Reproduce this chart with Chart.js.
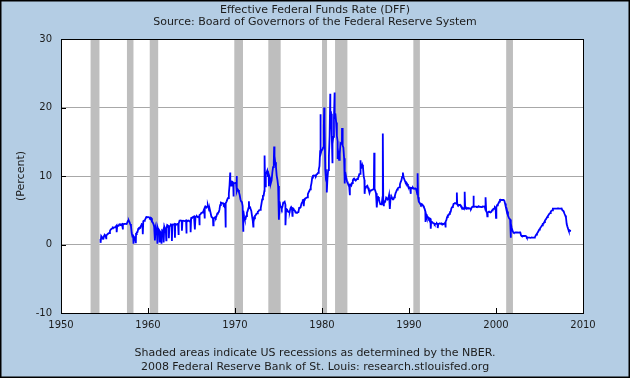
<!DOCTYPE html>
<html>
<head>
<meta charset="utf-8">
<script src="https://cdn.jsdelivr.net/npm/chart.js@4.4.1/dist/chart.umd.min.js"></script>
<style>
    html, body { margin: 0; padding: 0; background: #b4cde4; }
    #dff { display: block; }
</style>
</head>
<body>
<canvas id="dff" width="630" height="378"></canvas>
<script>
    'use strict';

    // Monthly effective federal funds rate, first value is July 1954
    var firstYear = 1954;
    var firstMonth = 7;

    var rates1950s = [
        0.80, 1.22, 1.06, 0.85, 0.83, 1.28,
        1.39, 1.29, 1.35, 1.43, 1.43, 1.64, 1.68, 1.96, 2.18, 2.24, 2.35, 2.48,
        2.45, 2.50, 2.50, 2.62, 2.75, 2.71, 2.75, 2.73, 2.95, 2.96, 2.88, 2.94,
        2.84, 3.00, 2.96, 3.00, 3.00, 3.00, 2.99, 3.24, 3.47, 3.50, 3.28, 2.98,
        2.72, 1.67, 1.20, 1.26, 0.63, 0.93, 0.68, 1.53, 1.76, 1.80, 2.27, 2.42,
        2.48, 2.43, 2.80, 2.96, 2.90, 3.39, 3.47, 3.50, 3.76, 3.98, 4.00, 3.99
    ];
    var rates1960s = [
        3.99, 3.97, 3.84, 3.92, 3.85, 3.32, 3.23, 2.98, 2.60, 2.47, 2.44, 1.98,
        1.45, 2.54, 2.02, 1.49, 1.98, 1.73, 1.17, 2.00, 1.88, 2.26, 2.62, 2.33,
        2.15, 2.37, 2.85, 2.78, 2.36, 2.68, 2.71, 2.93, 2.90, 2.90, 2.94, 2.93,
        2.92, 3.00, 2.98, 2.90, 3.00, 2.99, 3.02, 3.49, 3.48, 3.50, 3.48, 3.38,
        3.48, 3.48, 3.43, 3.47, 3.50, 3.50, 3.42, 3.50, 3.45, 3.36, 3.52, 3.85,
        3.90, 3.98, 4.04, 4.09, 4.10, 4.04, 4.09, 4.12, 4.01, 4.08, 4.10, 4.32,
        4.42, 4.60, 4.65, 4.67, 4.90, 5.17, 5.30, 5.53, 5.40, 5.53, 5.76, 5.40,
        4.94, 5.00, 4.53, 4.05, 3.94, 3.98, 3.79, 3.90, 3.99, 3.88, 4.13, 4.51,
        4.61, 4.71, 5.05, 5.76, 6.11, 6.07, 6.02, 6.03, 5.78, 5.91, 5.82, 6.02,
        6.30, 6.61, 6.79, 7.41, 8.67, 8.90, 8.61, 9.19, 9.15, 9.00, 8.85, 8.97
    ];
    var rates1970s = [
        8.98, 8.98, 7.76, 8.10, 7.95, 7.61, 7.21, 6.61, 6.29, 6.20, 5.60, 4.90,
        4.14, 3.72, 3.71, 4.15, 4.63, 4.91, 5.31, 5.57, 5.55, 5.20, 4.91, 4.14,
        3.50, 3.29, 3.83, 4.17, 4.27, 4.46, 4.55, 4.80, 4.87, 5.04, 5.06, 5.33,
        5.94, 6.58, 7.09, 7.12, 7.84, 8.49, 10.40, 10.50, 10.78, 10.01, 10.03, 9.95,
        9.65, 8.97, 9.35, 10.51, 11.31, 11.93, 12.92, 12.01, 11.34, 10.06, 9.45, 8.53,
        7.13, 6.24, 5.54, 5.49, 5.22, 5.55, 6.10, 6.14, 6.24, 5.82, 5.22, 5.20,
        4.87, 4.77, 4.84, 4.82, 5.29, 5.48, 5.31, 5.29, 5.25, 5.02, 4.95, 4.65,
        4.61, 4.68, 4.69, 4.73, 5.35, 5.39, 5.42, 5.90, 6.14, 6.47, 6.51, 6.56,
        6.70, 6.78, 6.79, 6.89, 7.36, 7.60, 7.81, 8.04, 8.45, 8.96, 9.76, 10.03,
        10.07, 10.06, 10.09, 10.01, 10.24, 10.29, 10.47, 10.94, 11.43, 13.77, 13.18, 13.78
    ];
    var rates1980s = [
        13.82, 14.13, 17.19, 17.61, 10.98, 9.47, 9.03, 9.61, 10.87, 12.81, 15.85, 18.90,
        19.08, 15.93, 14.70, 15.72, 18.52, 19.10, 19.04, 17.82, 15.87, 15.08, 13.31, 12.37,
        13.22, 14.78, 14.68, 14.94, 14.45, 14.15, 12.59, 10.12, 10.31, 9.71, 9.20, 8.95,
        8.68, 8.51, 8.77, 8.80, 8.63, 8.98, 9.37, 9.56, 9.45, 9.48, 9.34, 9.47,
        9.56, 9.59, 9.91, 10.29, 10.32, 11.06, 11.23, 11.64, 11.30, 9.99, 9.43, 8.38,
        8.35, 8.50, 8.58, 8.27, 7.97, 7.53, 7.88, 7.90, 7.92, 7.99, 8.05, 8.27,
        8.14, 7.86, 7.48, 6.99, 6.85, 6.92, 6.56, 6.17, 5.89, 5.85, 6.04, 6.91,
        6.43, 6.10, 6.13, 6.37, 6.85, 6.73, 6.58, 6.73, 7.22, 7.29, 6.69, 6.77,
        6.83, 6.58, 6.58, 6.87, 7.09, 7.51, 7.75, 8.01, 8.19, 8.30, 8.35, 8.76,
        9.12, 9.36, 9.85, 9.84, 9.81, 9.53, 9.24, 8.99, 9.02, 8.84, 8.55, 8.45
    ];
    var rates1990s = [
        8.23, 8.24, 8.28, 8.26, 8.18, 8.29, 8.15, 8.13, 8.20, 8.11, 7.81, 7.31,
        6.91, 6.25, 6.12, 5.91, 5.78, 5.90, 5.82, 5.66, 5.45, 5.21, 4.81, 4.43,
        4.03, 4.06, 3.98, 3.73, 3.82, 3.76, 3.25, 3.30, 3.22, 3.10, 3.09, 2.92,
        3.02, 3.03, 3.07, 2.96, 3.00, 3.04, 3.06, 3.03, 3.09, 2.99, 3.02, 2.96,
        3.05, 3.25, 3.34, 3.56, 4.01, 4.25, 4.26, 4.47, 4.73, 4.76, 5.29, 5.45,
        5.53, 5.92, 5.98, 6.05, 6.01, 6.00, 5.85, 5.74, 5.80, 5.76, 5.80, 5.60,
        5.56, 5.22, 5.31, 5.22, 5.24, 5.27, 5.40, 5.22, 5.30, 5.24, 5.31, 5.29,
        5.25, 5.19, 5.39, 5.51, 5.50, 5.56, 5.52, 5.54, 5.54, 5.50, 5.52, 5.50,
        5.56, 5.51, 5.49, 5.45, 5.49, 5.56, 5.54, 5.55, 5.51, 5.07, 4.83, 4.68,
        4.63, 4.76, 4.81, 4.74, 4.74, 4.76, 4.99, 5.07, 5.22, 5.20, 5.42, 5.30
    ];
    var rates2000s = [
        5.45, 5.73, 5.85, 6.02, 6.27, 6.53, 6.54, 6.50, 6.52, 6.51, 6.51, 6.40,
        5.98, 5.49, 5.31, 4.80, 4.21, 3.97, 3.77, 3.65, 3.07, 2.49, 2.09, 1.82,
        1.73, 1.74, 1.73, 1.75, 1.75, 1.75, 1.73, 1.74, 1.75, 1.75, 1.34, 1.24,
        1.24, 1.26, 1.25, 1.26, 1.26, 1.22, 1.01, 1.03, 1.01, 1.01, 1.00, 0.98,
        1.00, 1.01, 1.00, 1.00, 1.00, 1.03, 1.26, 1.43, 1.61, 1.76, 1.93, 2.16,
        2.28, 2.50, 2.63, 2.79, 3.00, 3.04, 3.26, 3.50, 3.62, 3.78, 4.00, 4.16,
        4.29, 4.49, 4.59, 4.79, 4.94, 4.99, 5.24, 5.25, 5.25, 5.25, 5.25, 5.24,
        5.25, 5.26, 5.26, 5.25, 5.25, 5.25, 5.26, 5.02, 4.94, 4.76, 4.49, 4.24,
        3.94, 2.98, 2.61, 2.28, 1.98, 2.00, 2.01, 2.00
    ];

    var spikeDates = [
        1954.55, 1955.2, 1956.4, 1957.1, 1958.3, 1958.6, 1959.4, 1960.8, 1961.05, 1961.3,
        1961.55, 1961.8, 1962.1, 1962.4, 1962.75, 1963.1, 1963.5, 1963.9, 1964.4, 1964.9,
        1965.4, 1965.9, 1966.5, 1967.5, 1968.9, 1969.45, 1969.8, 1970.2, 1970.95, 1971.6,
        1972.1, 1973.4, 1973.9, 1974.5, 1975.05, 1975.8, 1976.6, 1977.9, 1979.8, 1980.25,
        1980.55, 1980.95, 1981.2, 1981.45, 1981.8, 1982.3, 1982.6, 1983.2, 1984.4, 1984.9,
        1986.0, 1986.3, 1986.99, 1987.1, 1987.8, 1989.3, 1990.2, 1990.99, 1991.9, 1992.5,
        1993.3, 1994.2, 1995.5, 1996.4, 1997.4, 1998.8, 1999.0, 2000.0, 2001.7
    ];
    var spikeValues = [
        0.25, 0.9, 1.8, 2.2, 0.1, 0.2, 1.5, 0.6, 0.1, 0.3,
        0.1, 0.3, 0.6, 0.9, 0.5, 1.0, 1.4, 2.0, 1.6, 1.8,
        2.2, 2.8, 3.8, 2.8, 2.5, 10.5, 7.0, 10.0, 2.0, 6.3,
        2.6, 13.0, 8.5, 14.3, 3.6, 2.8, 4.2, 5.6, 19.0, 20.0,
        7.6, 22.0, 12.0, 22.2, 12.5, 17.0, 8.9, 7.2, 12.3, 7.4,
        13.4, 5.4, 16.2, 5.6, 5.2, 10.5, 7.4, 10.4, 3.3, 2.3,
        2.4, 2.6, 7.6, 7.7, 7.1, 6.9, 4.1, 3.9, 1.0
    ];

    var recessionStarts = [1953.4, 1957.58, 1960.2, 1969.92, 1973.83, 1980.0, 1981.5, 1990.5, 2001.17];
    var recessionEnds = [1954.42, 1958.33, 1961.17, 1970.92, 1975.25, 1980.58, 1982.92, 1991.25, 2001.95];

    var yearTicks = [1950, 1960, 1970, 1980, 1990, 2000, 2010];
    var titleLines = ['Effective Federal Funds Rate (DFF)', 'Source: Board of Governors of the Federal Reserve System'];
    var footerLines = ['Shaded areas indicate US recessions as determined by the NBER.', '2008 Federal Reserve Bank of St. Louis: research.stlouisfed.org'];

    var textColor = '#1c1c1c';
    var fontFamily = '"DejaVu Sans", Verdana, sans-serif';

    var buildPoints = function () {
        var monthly = rates1950s.concat(rates1960s, rates1970s, rates1980s, rates1990s, rates2000s);
        var points = monthly.map(function (value, i) {
            var m = firstMonth - 1 + i;
            return { x: firstYear + (m + 0.5) / 12, y: value };
        });
        spikeDates.forEach(function (date, i) {
            points.push({ x: date, y: spikeValues[i] });
        });
        points.sort(function (a, b) { return a.x - b.x; });
        return points;
    };

    var fredFrame = {
        id: 'fredFrame',
        beforeDraw: function (chart) {
            var ctx = chart.ctx;
            var area = chart.chartArea;
            ctx.save();
            ctx.fillStyle = '#b4cde4';
            ctx.fillRect(0, 0, chart.width, chart.height);
            ctx.fillStyle = '#ffffff';
            ctx.fillRect(area.left, area.top, area.right - area.left, area.bottom - area.top);
            ctx.restore();
        },
        beforeDatasetsDraw: function (chart) {
            var ctx = chart.ctx;
            var area = chart.chartArea;
            var x = chart.scales.x;
            ctx.save();
            ctx.fillStyle = '#bebebe';
            recessionStarts.forEach(function (start, i) {
                var x0 = x.getPixelForValue(start);
                var x1 = x.getPixelForValue(recessionEnds[i]);
                ctx.fillRect(x0, area.top, x1 - x0, area.bottom - area.top);
            });
            ctx.restore();
        },
        afterDatasetsDraw: function (chart) {
            var ctx = chart.ctx;
            var area = chart.chartArea;
            var x = chart.scales.x;
            var y = chart.scales.y;
            ctx.save();
            ctx.strokeStyle = '#000000';
            ctx.lineWidth = 1;
            ctx.beginPath();
            x.ticks.forEach(function (tick) {
                var px = Math.round(x.getPixelForValue(tick.value)) + 0.5;
                ctx.moveTo(px, area.bottom);
                ctx.lineTo(px, area.bottom - 5);
            });
            y.ticks.forEach(function (tick) {
                var py = Math.round(y.getPixelForValue(tick.value)) + 0.5;
                ctx.moveTo(area.left, py);
                ctx.lineTo(area.left + 5, py);
            });
            ctx.stroke();
            ctx.strokeRect(Math.round(area.left) + 0.5, Math.round(area.top) + 0.5,
                Math.round(area.right - area.left), Math.round(area.bottom - area.top));
            ctx.restore();
        },
        afterDraw: function (chart) {
            var ctx = chart.ctx;
            ctx.save();
            ctx.strokeStyle = '#000000';
            ctx.lineWidth = 1.5;
            ctx.strokeRect(0.75, 0.75, chart.width - 1.5, chart.height - 1.5);
            ctx.restore();
        }
    };

    var context = document.getElementById('dff');
    var chart = new Chart(context, {
        type: 'line',
        data: {
            datasets: [{
                label: 'DFF',
                data: buildPoints(),
                borderColor: '#0000ff',
                borderWidth: 1.8,
                pointRadius: 0,
                tension: 0,
                fill: false
            }]
        },
        options: {
            responsive: false,
            animation: false,
            events: [],
            layout: { padding: 0 },
            plugins: {
                legend: { display: false },
                tooltip: { enabled: false },
                title: {
                    display: true,
                    text: titleLines,
                    color: textColor,
                    font: { family: fontFamily, size: 11, weight: 'normal', lineHeight: 12 / 11 },
                    padding: { top: 4, bottom: 11 }
                },
                subtitle: {
                    display: true,
                    position: 'bottom',
                    text: footerLines,
                    color: textColor,
                    font: { family: fontFamily, size: 11, weight: 'normal', lineHeight: 14 / 11 },
                    padding: { top: 0, bottom: 4 }
                }
            },
            scales: {
                x: {
                    type: 'linear',
                    min: 1950,
                    max: 2010,
                    afterBuildTicks: function (scale) {
                        scale.ticks = yearTicks.map(function (v) { return { value: v }; });
                    },
                    ticks: {
                        color: textColor,
                        font: { family: fontFamily, size: 10 },
                        padding: 6,
                        maxRotation: 0,
                        callback: function (value) { return String(value); }
                    },
                    grid: { display: false, drawTicks: false },
                    border: { display: false },
                    afterFit: function (scale) { scale.height = 33; }
                },
                y: {
                    min: -10,
                    max: 30,
                    ticks: {
                        stepSize: 10,
                        color: textColor,
                        font: { family: fontFamily, size: 10 },
                        padding: 9
                    },
                    grid: { color: '#a8a8a8', lineWidth: 1, drawTicks: false },
                    border: { display: false },
                    title: {
                        display: true,
                        text: '(Percent)',
                        color: textColor,
                        font: { family: fontFamily, size: 11 },
                        padding: { top: 15, bottom: 0 }
                    },
                    afterFit: function (scale) { scale.width = 61; }
                },
                // empty right-hand axis: keeps the margin right of the plot
                // while the title and footer stay centred on the canvas
                margin: {
                    type: 'linear',
                    position: 'right',
                    display: true,
                    min: -10,
                    max: 30,
                    ticks: { display: false },
                    grid: { display: false, drawTicks: false },
                    border: { display: false },
                    afterFit: function (scale) { scale.width = 47; }
                }
            }
        },
        plugins: [fredFrame]
    });
</script>
</body>
</html>
